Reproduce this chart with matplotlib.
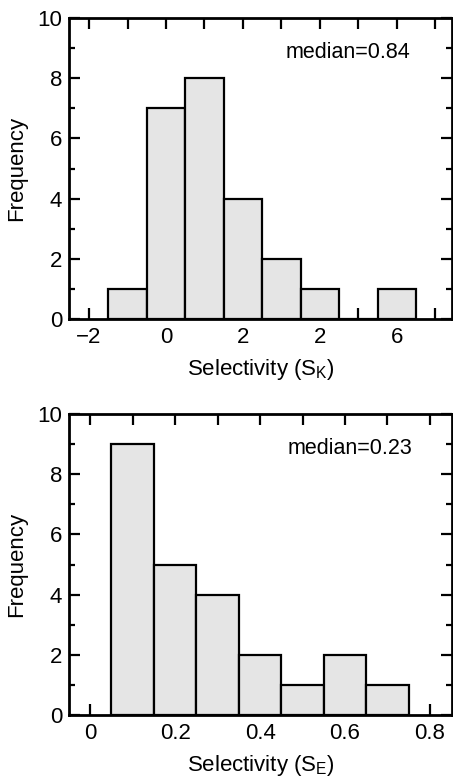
import numpy as np
import matplotlib
matplotlib.use("Agg")
import matplotlib.pyplot as plt
from matplotlib.ticker import MultipleLocator

plt.rcParams['font.family'] = ['Liberation Sans', 'DejaVu Sans']
plt.rcParams['mathtext.fontset'] = 'custom'
plt.rcParams['mathtext.rm'] = 'Liberation Sans'
plt.rcParams['mathtext.it'] = 'Liberation Sans'

# top panel: selectivity S_K, bins of width 1
sk_centers = [-1, 0, 1, 2, 3, 4, 5, 6]
sk_counts = [1, 7, 8, 4, 2, 1, 0, 1]
sk_ticks = [-2, 0, 2, 4, 6]
sk_ticklabels = ['\u22122', '0', '2', '2', '6']
sk_median = 0.84

# bottom panel: selectivity S_E, bins of width 0.1
se_centers = [0.1, 0.2, 0.3, 0.4, 0.5, 0.6, 0.7]
se_counts = [9, 5, 4, 2, 1, 2, 1]
se_ticks = [0, 0.2, 0.4, 0.6, 0.8]
se_ticklabels = ['0', '0.2', '0.4', '0.6', '0.8']
se_median = 0.23

W, H = 453, 783
fig = plt.figure(figsize=(W / 100, H / 100), dpi=100)


def panel(rect, centers, counts, width, ticks, ticklabels, minor, xlim, sub, median, tx):
    ax = fig.add_axes(rect)
    ax.bar(centers, counts, width=width, color='#e5e5e5', edgecolor='black', linewidth=1.6, zorder=2)
    ax.set_xlim(*xlim)
    ax.set_ylim(0, 10)
    ax.set_xticks(ticks)
    ax.set_xticklabels(ticklabels)
    ax.xaxis.set_minor_locator(MultipleLocator(minor))
    ax.set_yticks([0, 2, 4, 6, 8, 10])
    ax.yaxis.set_minor_locator(MultipleLocator(1))
    ax.tick_params(axis='x', which='both', direction='in', top=True, length=8, width=1.6,
                   labelsize=16, pad=6)
    ax.tick_params(axis='y', which='major', direction='in', right=True, length=8, width=1.6,
                   labelsize=16, pad=5)
    ax.tick_params(axis='y', which='minor', direction='in', right=True, length=4, width=1.6)
    for s in ax.spines.values():
        s.set_linewidth(2)
        s.set_zorder(3)
    ax.set_ylabel('Frequency', fontsize=16, labelpad=7)
    ax.set_xlabel('Selectivity (S$_{\\mathregular{%s}}$)' % sub, fontsize=16, labelpad=6)
    ax.text(tx, 0.885, 'median=%.2f' % median, transform=ax.transAxes,
            ha='center', va='center', fontsize=15.5)
    return ax


ax1 = panel([69 / W, (H - 319) / H, 383 / W, 301 / H], sk_centers, sk_counts, 1.0,
            sk_ticks, sk_ticklabels, 1, (-2.52, 7.43), 'K', sk_median, 0.728)
ax2 = panel([69 / W, (H - 715) / H, 383 / W, 301 / H], se_centers, se_counts, 0.1,
            se_ticks, se_ticklabels, 0.1, (-0.05, 0.852), 'E', se_median, 0.734)

fig.savefig('out.png', dpi=100)
